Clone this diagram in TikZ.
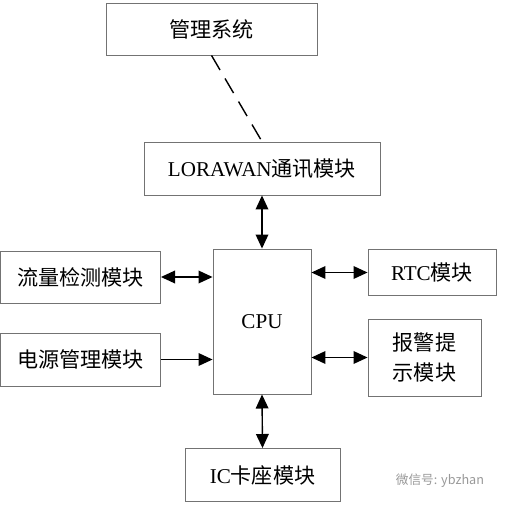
\documentclass[tikz,border=0pt]{standalone}
\usepackage{fontspec}
\setmainfont{Liberation Serif}
\newfontfamily\cjk{Noto Sans CJK SC}
\usepackage{xcolor}
\usepackage{tikz}
\usetikzlibrary{arrows.meta,positioning}

\begin{document}
\begin{tikzpicture}[
    x=0.025cm, y=-0.025cm,
    box/.style={rectangle, draw=black!55, line width=0.6pt, inner sep=0pt, align=center, font=\fontsize{15}{21}\selectfont},
    arrow/.style={-{Triangle[length=10pt,width=9pt]}, line width=1pt},
    biarrow/.style={{Triangle[length=10pt,width=9pt]}-{Triangle[length=10pt,width=9pt]}, line width=1pt},
    link/.style={line width=1pt, dash pattern=on 12pt off 7pt},
]
    \useasboundingbox (0,0) rectangle (506,507);
    \node[box, minimum width=5.275cm, minimum height=1.3cm] (sys) at (211.5,29) {\cjk 管理系统};
    \node[box, minimum width=5.9cm, minimum height=1.325cm] (lora) at (262,168.5) {LORAWAN{\cjk 通讯模块}};
    \node[box, minimum width=2.45cm, minimum height=3.625cm] (cpu) at (262,321.5) {CPU};
    \node[box, minimum width=4cm, minimum height=1.3cm] (flow) at (80.5,277) {\cjk 流量检测模块};
    \node[box, minimum width=4cm, minimum height=1.325cm] (power) at (80.5,359.5) {\cjk 电源管理模块};
    \node[box, minimum width=3.2cm, minimum height=1.15cm] (rtc) at (432,272.5) {RTC{\cjk 模块}};
    \node[box, minimum width=2.825cm, minimum height=1.925cm] (alarm) at (424.5,357.5) {\cjk 报警提\\\cjk 示模块};
    \node[box, minimum width=3.875cm, minimum height=1.325cm] (ic) at (262.5,475) {IC{\cjk 卡座模块}};
    \node[text=black!40, font=\cjk\fontsize{9}{10}\selectfont] (mark) at (440,481) {微信号: ybzhan};

    \draw[link] (sys.south) -- (lora.north);
    \draw[biarrow] (lora.south) -- (cpu.north);
    \draw[biarrow] (flow.east) -- (flow.east -| cpu.west);
    \draw[arrow] (power.east) -- (power.east -| cpu.west);
    \draw[biarrow] (rtc.west -| cpu.east) -- (rtc.west);
    \draw[biarrow] (alarm.west -| cpu.east) -- (alarm.west);
    \draw[biarrow] (cpu.south) -- (ic.north);
\end{tikzpicture}
\end{document}
